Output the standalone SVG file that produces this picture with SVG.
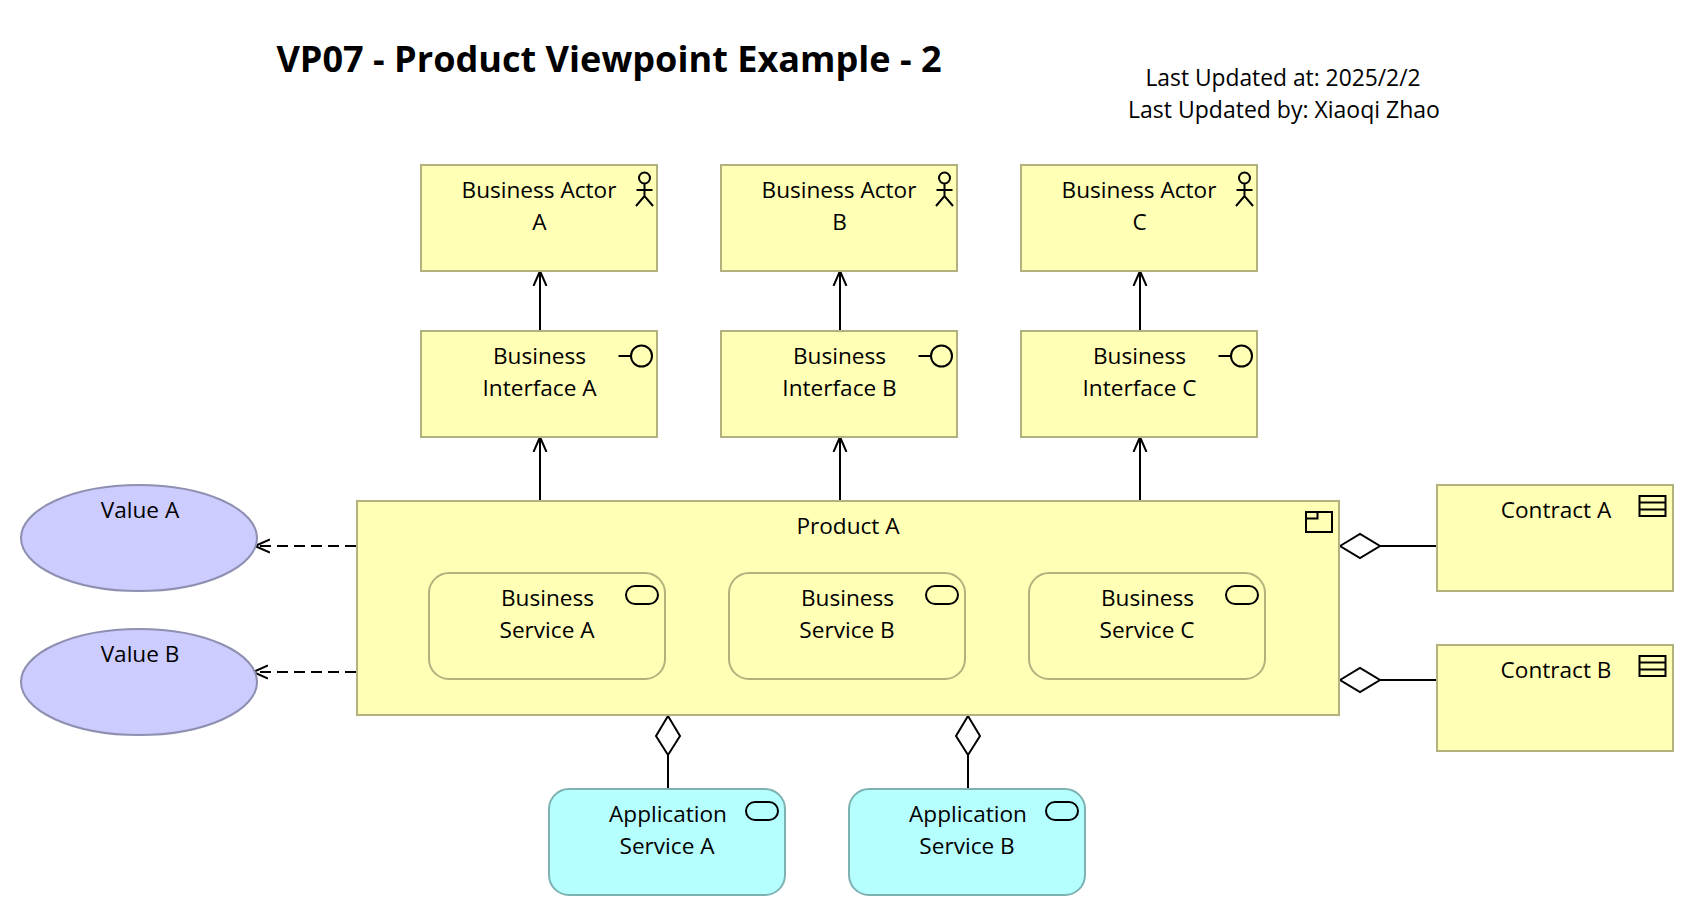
<svg xmlns="http://www.w3.org/2000/svg" width="1696" height="918" viewBox="0 0 1696 918">
<style>
text{font-family:"Open Sans","Noto Sans","Liberation Sans",sans-serif;font-size:22.6px;fill:#000;text-anchor:middle}
.y{fill:#ffffb5;stroke:#b2b27e;stroke-width:2}
.v{fill:#ccccff;stroke:#8f8fb2;stroke-width:2}
.c{fill:#b5ffff;stroke:#7eb2b2;stroke-width:2}
.i{fill:none;stroke:#000;stroke-width:2}
.l{fill:none;stroke:#000;stroke-width:2}
.d{fill:#fff;stroke:#000;stroke-width:2}
</style>
<defs>
<g id="actor" class="i"><circle cx="0" cy="0" r="5.500"/><path d="M0 5.500V18M-8 12H8M-8.500 28L0 18L8.500 28"/></g>
<g id="iface" class="i"><circle cx="0" cy="0" r="10.500"/><path d="M-23 0H-10.500"/></g>
<rect id="svc" class="i" x="-16" y="-9" width="32" height="18" rx="9"/>
<g id="contract" class="i"><rect x="-13" y="-10" width="26" height="20"/><path d="M-13-3.500H13M-13 3.500H13"/></g>
<marker id="open" markerUnits="userSpaceOnUse" markerWidth="17" markerHeight="16" refX="15" refY="8" orient="auto" viewBox="0 0 17 16"><path d="M0 1.500L15 8L0 14.500" fill="none" stroke="#000" stroke-width="2"/></marker>
</defs>
<text id="title" x="609" y="72" style="font-size:36.100px;font-weight:700">VP07 - Product Viewpoint Example - 2</text>
<g id="meta"><text x="1283" y="86" style="font-size:22.800px">Last Updated at: 2025/2/2</text><text x="1284" y="118" style="font-size:23px">Last Updated by: Xiaoqi Zhao</text></g>
<g id="connectors">
<path class="l" marker-end="url(#open)" d="M540 331V271"/>
<path class="l" marker-end="url(#open)" d="M840 331V271"/>
<path class="l" marker-end="url(#open)" d="M1140 331V271"/>
<path class="l" marker-end="url(#open)" d="M540 501V437"/>
<path class="l" marker-end="url(#open)" d="M840 501V437"/>
<path class="l" marker-end="url(#open)" d="M1140 501V437"/>
<path class="l" stroke-dasharray="11 6" marker-end="url(#open)" d="M356 546H255"/>
<path class="l" stroke-dasharray="11 6" marker-end="url(#open)" d="M356 672H253"/>
<path class="l" d="M1437 546H1380"/>
<path class="l" d="M1437 680H1380"/>
<path class="l" d="M668 788V755"/>
<path class="l" d="M968 788V755"/>
<path class="d" d="M1340 546L1360 534L1380 546L1360 558Z"/>
<path class="d" d="M1340 680L1360 668L1380 680L1360 692Z"/>
<path class="d" d="M668 716L680 736L668 755L656 736Z"/>
<path class="d" d="M968 716L980 736L968 755L956 736Z"/>
</g>
<g id="actorA"><rect class="y" x="421" y="165" width="236" height="106"/><text x="539" y="198">Business Actor</text><text x="539.500" y="230">A</text><use href="#actor" x="644.500" y="178"/></g>
<g id="actorB"><rect class="y" x="721" y="165" width="236" height="106"/><text x="839" y="198">Business Actor</text><text x="839.500" y="230">B</text><use href="#actor" x="944.500" y="178"/></g>
<g id="actorC"><rect class="y" x="1021" y="165" width="236" height="106"/><text x="1139" y="198">Business Actor</text><text x="1139.500" y="230">C</text><use href="#actor" x="1244.500" y="178"/></g>
<g id="ifaceA"><rect class="y" x="421" y="331" width="236" height="106"/><text x="539.500" y="364">Business</text><text x="539.500" y="396">Interface A</text><use href="#iface" x="641.500" y="356"/></g>
<g id="ifaceB"><rect class="y" x="721" y="331" width="236" height="106"/><text x="839.500" y="364">Business</text><text x="839.500" y="396">Interface B</text><use href="#iface" x="941.500" y="356"/></g>
<g id="ifaceC"><rect class="y" x="1021" y="331" width="236" height="106"/><text x="1139.500" y="364">Business</text><text x="1139.500" y="396">Interface C</text><use href="#iface" x="1241.500" y="356"/></g>
<g id="productA"><rect class="y" x="357" y="501" width="982" height="214"/><text x="848" y="534">Product A</text><path class="i" d="M1306 512H1332V532H1306ZM1306 518.500H1317.500V512"/></g>
<g id="svcA"><rect class="y" x="429" y="573" width="236" height="106" rx="20"/><text x="547.500" y="606">Business</text><text x="547" y="638">Service A</text><use href="#svc" x="642" y="595"/></g>
<g id="svcB"><rect class="y" x="729" y="573" width="236" height="106" rx="20"/><text x="847.500" y="606">Business</text><text x="847" y="638">Service B</text><use href="#svc" x="942" y="595"/></g>
<g id="svcC"><rect class="y" x="1029" y="573" width="236" height="106" rx="20"/><text x="1147.500" y="606">Business</text><text x="1147" y="638">Service C</text><use href="#svc" x="1242" y="595"/></g>
<g id="valueA"><ellipse class="v" cx="139" cy="538" rx="118" ry="53"/><text x="140" y="518">Value A</text></g>
<g id="valueB"><ellipse class="v" cx="139" cy="682" rx="118" ry="53"/><text x="140" y="662">Value B</text></g>
<g id="contractA"><rect class="y" x="1437" y="485" width="236" height="106"/><text x="1556" y="518">Contract A</text><use href="#contract" x="1652.500" y="506"/></g>
<g id="contractB"><rect class="y" x="1437" y="645" width="236" height="106"/><text x="1556" y="678">Contract B</text><use href="#contract" x="1652.500" y="666"/></g>
<g id="appA"><rect class="c" x="549" y="789" width="236" height="106" rx="20"/><text x="668" y="822">Application</text><text x="667" y="854">Service A</text><use href="#svc" x="762" y="811"/></g>
<g id="appB"><rect class="c" x="849" y="789" width="236" height="106" rx="20"/><text x="968" y="822">Application</text><text x="967" y="854">Service B</text><use href="#svc" x="1062" y="811"/></g>
</svg>
